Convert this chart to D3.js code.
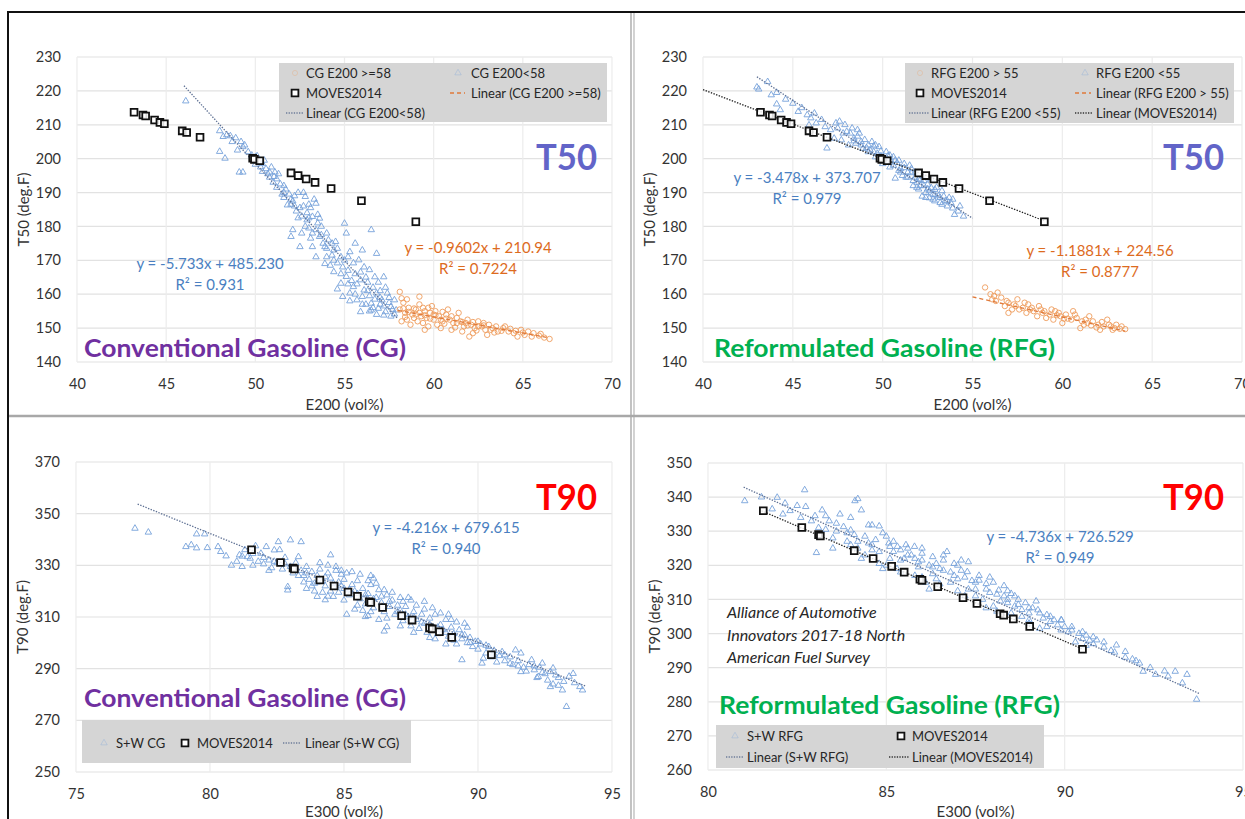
<!DOCTYPE html>
<html><head><meta charset="utf-8">
<script src="https://cdn.jsdelivr.net/npm/d3@7"></script>
<style>body{margin:0;background:#fff}svg{display:block;font-family:Lato,"Open Sans",sans-serif}</style>
</head><body><svg id="c" width="1245" height="819"></svg>
<script>
// ---------------- tick labels ----------------
const e200Ticks = [40,45,50,55,60,65,70];
const t50Ticks = [140,150,160,170,180,190,200,210,220,230];
const e300TicksCG = [75,80,85,90,95];
const t90TicksCG = [250,270,290,310,330,350,370];
const e300TicksRFG = [80,85,90,95];
const t90TicksRFG = [260,270,280,290,300,310,320,330,340,350];

// ---------------- MOVES2014 ----------------
const movesE200 = [43.2,43.7,43.85,44.35,44.65,44.9,45.9,46.15,46.9,49.85,49.95,50.25,52.0,52.4,52.85,53.35,54.25,55.95,59.0];
const movesT50  = [213.7,212.9,212.6,211.4,210.7,210.3,208.2,207.7,206.3,200.1,199.8,199.4,195.8,195.0,194.0,193.0,191.2,187.6,181.4];
const movesE300 = [81.55,82.63,83.1,83.15,84.1,84.63,85.15,85.5,85.94,86.0,86.44,87.15,87.54,88.19,88.29,88.56,89.02,90.5];
const movesT90  = [336.0,331.1,329.0,328.6,324.3,322.0,319.7,318.0,315.9,315.6,313.7,310.5,308.8,305.8,305.4,304.3,302.1,295.4];

// ---------------- Survey data (x, y) ----------------
const cgLow = [[46.1,217],[48.0,208.2],[48.4,207],[48.6,206.7],[48.9,206.1],[49.2,205],[48.0,202.1],[48.3,200.1],[49.1,196],[49.3,196],[49.3,203.5],[49.6,202],[49.8,201],[50.0,200.5],[50.2,199],[50.4,198.5],[50.6,197],[50.5,199.5],[50.8,196],[50.9,197.5],[51.05,194.7],[51.2,194],[51.3,195.5],[51.4,192.5],[51.6,192],[51.5,189.5],[51.7,191],[51.8,186.3],[51.9,189.5],[52.0,188],[52.1,187.5],[52.2,186],[52.4,190],[52.3,184.5],[52.5,185.5],[52.6,183],[52.8,188.8],[52.7,186],[52.9,184],[53.0,182.5],[53.1,185.5],[53.3,188],[53.4,186.8],[53.2,182.9],[53.5,183.5],[53.6,182.4],[52.9,181.9],[52.1,179],[52.0,177],[52.5,174],[53.4,179],[53.7,177.5],[54.0,178],[54.1,176],[53.4,171],[53.9,169],[54.0,171],[53.9,174],[54.4,173],[54.6,173.5],[55.0,180.9],[55.1,178],[55.6,175],[56.0,173],[56.5,179],[56.8,172],[54.6,169.2],[54.9,168],[55.2,171],[55.5,169.2],[55.8,170.1],[56.1,168],[56.4,167.2],[56.7,165.1],[57.2,165.1],[54.4,166.6],[54.8,163.2],[55.1,165.2],[55.5,162.2],[55.9,164.2],[56.1,161.2],[54.9,159.3],[55.3,160.3],[55.7,158.3],[56.0,159.3],[56.5,157.3],[56.8,160.3],[57.1,158.3],[57.4,160.3],[57.8,158.3],[55.9,154.8],[56.5,155.3],[56.9,155.8],[57.3,154.8],[57.6,156.3],[57.9,155.3],[57.8,154.1],[56.2,157],[56.6,162],[57.0,161],[57.5,157.5],[56.3,163.5],[55.6,166],[55.2,167],[54.2,168.5],[53.8,175],[54.3,171.5],[54.8,171],[55.3,172.5],[55.9,166.5],[56.2,165],[57.0,157],[57.7,155.5],[56.4,159.5],[56.9,163.5],[57.3,162],[54.5,175.5],[53.1,176.5],[52.6,178],[53.7,180],[53.0,179.5],[50.3,197.5],[50.7,195.5],[51.0,193],[51.1,196],[51.6,188.5],[52.2,189],[52.7,190],[53.0,186.5],[49.9,199.8],[50.1,200.8],[49.4,204],[48.7,205],[49.0,202.5],[48.2,206.5],[53.2,174],[55.4,164],[56.6,156],[57.2,156.5],[50.0,198.3],[50.4,196.2],[50.8,194.5],[51.2,191.5],[51.6,190],[52.0,186.5],[52.4,182.5],[52.8,180],[53.2,178],[53.6,177],[54.0,173.5],[54.4,170],[54.8,166],[55.2,163],[55.6,160],[56.0,157],[56.4,155],[56.8,154],[57.2,153.8],[57.6,153.5],[53.5,181],[54.3,175],[55.0,170],[55.7,163],[56.3,161],[57.0,159],[57.5,159],[55.3,158],[56.7,158.5],[54.6,161.5]];
const cgHigh = [[58.1,160.7],[58.2,158.8],[58.3,157.5],[58.1,155.5],[58.4,154.5],[58.6,156],[58.8,154],[58.5,152.5],[58.2,152],[59.0,155.5],[59.2,157],[59.3,153.5],[59.5,155],[59.2,159.3],[59.6,153],[59.8,154.5],[60.0,152.5],[60.1,155],[60.3,153.5],[60.5,152],[60.2,151],[60.7,154],[60.9,152.5],[61.1,151.5],[61.3,153],[61.5,152],[61.7,150.5],[61.9,152.5],[62.1,151],[62.3,150],[62.5,152],[62.2,148.5],[62.7,150.5],[62.9,149.5],[63.1,151],[63.3,150],[63.6,149],[63.9,150],[64.2,149],[64.5,148.5],[64.9,149.5],[65.1,148],[65.5,147.5],[65.9,147.8],[66.2,147.2],[66.5,146.8],[58.9,153],[59.1,152],[59.4,151.5],[59.7,150.5],[60.4,150],[61.0,149.5],[61.6,149],[62.0,147.5],[63.0,148],[60.8,155.5],[61.4,154.5],[59.9,156.5],[58.7,151],[59.5,149.5],[64.0,150.5],[62.8,151.5],[61.2,150.2],[58.4,153.3],[59.0,154],[60.6,151.3],[61.8,151.5],[62.4,149.3],[63.4,148.7],[64.7,147.5],[65.3,149],[60.0,154],[59.4,156],[58.3,155.8],[58.6,154.8],[58.9,155.8],[59.2,154.5],[59.5,153.8],[59.8,152.8],[60.1,153.8],[60.4,152.5],[60.7,152.8],[61.0,153.5],[61.3,151.5],[61.6,151.8],[61.9,150.8],[62.2,151.8],[62.5,150.5],[62.8,150.8],[63.2,149.5],[63.5,150.5],[63.8,149.2],[64.3,149.8],[64.6,149.2],[65.0,148.7],[65.6,148.5],[66.0,148.3],[60.5,154.8],[59.7,156],[58.5,158.5]];
const rfgLow = [[43.0,221.1],[43.1,220.5],[43.6,222.7],[43.8,218.8],[44.1,219.5],[44.1,216.1],[44.3,214.4],[45.0,216.3],[45.3,213.9],[45.8,212.9],[46.2,213.4],[45.9,209.9],[46.8,209.4],[47.1,208.5],[46.9,203.1],[47.5,209],[47.8,207.5],[48.0,208],[48.2,207.5],[48.4,206],[48.6,206.6],[48.8,205],[49.0,205.6],[49.2,204],[49.5,203.7],[49.3,202.5],[49.7,201.5],[49.9,202.2],[50.1,200],[50.3,200.8],[50.5,199],[50.7,199.5],[50.8,198.8],[51.0,197],[50.7,194.2],[51.2,197.3],[51.4,196],[51.6,195.8],[51.8,194.5],[51.9,193],[52.1,193.8],[52.2,188.9],[52.3,192],[52.5,192.4],[52.6,188.4],[52.7,191.4],[52.9,190.9],[52.9,189.4],[53.1,189],[53.4,188.9],[53.5,187.5],[53.8,186.9],[53.9,185.4],[54.2,184.5],[47.3,206],[47.7,205.5],[48.1,204],[48.5,204.5],[48.9,203],[49.2,202],[49.6,200.5],[50.0,198.5],[50.4,197.5],[50.9,196.5],[51.3,194.5],[51.7,192],[52.0,191],[52.4,190],[52.8,188],[53.2,187],[53.0,191.5],[52.2,195],[51.5,198],[50.9,199.5],[50.2,202],[49.4,205],[48.7,207.5],[48.3,209],[47.9,210],[51.1,195],[51.9,191.5],[52.6,190.5],[53.3,190.5],[53.6,186],[54.0,183.5],[54.5,183],[50.6,200.5],[49.8,203.5],[47.6,211],[46.6,211.5],[46.3,210.5],[45.5,215],[44.6,217.5],[53.7,188.5],[52.3,193.5],[52.0,194],[51.8,196],[48.4,205.2],[48.8,204],[49.1,203.2],[49.5,202],[49.9,200.7],[50.3,199.5],[50.6,198],[51.0,196],[51.4,194.5],[51.7,193.5],[52.1,192],[52.5,191],[52.8,189.5],[53.2,188.5],[53.6,187.5],[52.4,188.5],[52.9,187.5],[53.3,186.5],[51.2,198.5],[50.4,201],[49.6,204],[48.6,208.5],[47.4,210.5],[46.0,212],[53.9,188],[54.3,186],[52.7,194],[51.6,197]];
const rfgHigh = [[55.7,162],[56.0,160],[56.3,158],[56.6,159],[56.4,160.5],[57.0,157.5],[57.5,158.5],[57.2,155.5],[57.8,156],[58.1,157],[58.4,155],[58.7,156.5],[59.0,155],[59.3,154],[59.6,155],[59.9,153.5],[60.2,154],[60.5,152.5],[60.8,153],[61.1,152],[61.4,151.5],[61.7,152],[62.0,151],[62.3,150.5],[62.6,151],[62.9,150],[63.2,149.8],[63.5,149.7],[60.6,155],[59.1,153],[58.0,154.5],[57.0,154.5],[56.8,156.5],[61.0,150],[62.1,149.5],[60.0,151.5],[59.5,152.5],[58.6,153.5],[61.5,153.5],[62.5,152.5],[57.3,157],[58.3,156],[59.8,154.5],[60.3,152.8],[61.2,151],[61.9,150.2],[62.8,149.5],[56.1,158.5],[57.6,155.5],[58.9,154.5],[56.2,159.5],[56.9,158],[57.4,156.5],[57.9,157.5],[58.2,155.5],[58.8,155.5],[59.4,155.5],[59.7,153.8],[60.1,152.8],[60.7,154],[61.3,152.5],[61.6,150.8],[62.2,151.8],[62.7,150.5],[63.0,151],[63.3,150.5]];
const swCG = [[77.2,344.3],[77.7,342.8],[79.1,337.2],[79.3,337.9],[79.5,336.7],[79.9,336.8],[79.5,342.1],[79.8,342.1],[80.3,337.2],[80.4,335.3],[80.6,333.6],[81.4,333.3],[81.5,332.7],[81.9,334.6],[82.1,337.2],[82.4,335.9],[82.55,339.1],[83.0,339.8],[83.3,333.3],[83.4,339.1],[82.9,321.7],[82.9,320.4],[84.5,334],[84.0,317.9],[84.3,316.6],[84.6,317.9],[85.8,310.1],[86.6,306.2],[89.4,293.4],[90.15,292.1],[91.6,288.8],[92.25,286.9],[92.7,283],[93.15,281.7],[93.3,275.3],[93.55,288.1],[93.9,281.7],[92.0,293.4],[92.4,292.1],[92.8,290.2],[91.0,295.3],[91.4,297.2],[91.6,296],[80.8,330],[81.0,331.5],[81.2,329.5],[81.3,336],[81.6,330],[81.8,331.5],[82.0,330.5],[82.2,332],[82.3,329],[82.5,331],[82.7,328.5],[82.8,333],[83.0,329.5],[83.1,327],[83.2,331],[82.6,336],[82.2,328],[81.7,337.5],[81.1,334],[83.4,328],[83.5,326],[83.6,329.5],[83.7,324.5],[83.8,327.5],[83.9,323],[84.0,326],[84.1,328.5],[84.2,324],[84.3,322],[84.4,327],[84.5,325],[84.6,321.5],[84.7,328],[84.8,323.5],[84.9,326.5],[85.0,321],[85.0,324.5],[84.8,319.5],[84.5,320],[84.2,319.5],[83.8,322],[83.5,323.5],[83.6,321],[85.1,327],[84.9,328],[85.2,318.5],[85.3,322.5],[85.4,320],[85.5,324],[85.6,317],[85.7,321],[85.8,315],[85.9,319],[86.0,322.5],[86.1,313.5],[86.2,317.5],[86.3,320.5],[86.4,315.5],[86.5,312],[86.6,318.5],[86.7,314],[86.8,316.5],[86.9,311],[87.0,314.5],[85.4,313],[85.7,312.5],[86.0,326],[86.1,325],[86.3,309],[86.5,304.5],[85.9,310.5],[85.1,311],[87.1,312.5],[87.2,308.5],[87.3,314],[87.4,310],[87.5,306.5],[87.6,312],[87.7,309],[87.8,305.5],[87.9,311],[88.0,307.5],[88.1,304],[88.2,309.5],[88.3,306],[88.4,311],[88.5,303.5],[88.6,307],[88.7,305],[88.8,309],[88.9,302.5],[89.0,306],[87.2,316],[87.5,316.5],[88.0,313],[88.4,301.5],[89.1,303.5],[89.2,299.5],[89.3,305],[89.4,301.5],[89.5,303],[89.6,300],[89.7,302],[89.8,298.5],[89.9,300.5],[90.0,297.5],[90.1,299.5],[90.3,296],[90.4,298.5],[90.5,294.5],[90.6,297],[90.8,295],[91.0,293],[91.2,294.5],[90.7,292.5],[89.6,306],[89.0,309],[91.3,291.5],[91.5,293],[91.7,290.5],[91.9,291.5],[92.1,289.5],[92.3,290.5],[92.5,288],[92.6,285.5],[92.9,287.5],[93.0,283.5],[93.2,285],[93.4,287],[93.6,284.5],[93.8,283],[92.2,286.5],[92.8,284],[81.2,333.5],[81.6,334.5],[82.0,333],[82.4,331.5],[82.8,330.5],[83.2,329],[83.6,327],[84.0,323.5],[84.3,325.5],[84.6,323],[84.9,322],[85.2,320.5],[85.5,319],[85.8,318.5],[86.1,317],[86.4,318],[86.7,316],[87.0,312],[87.3,311],[87.6,310],[87.9,308],[88.2,307],[88.5,306],[88.8,304],[89.1,301],[89.4,303],[89.7,300],[90.0,300.5],[90.3,299],[90.6,295.5],[90.9,296.5],[91.2,292],[91.5,291],[91.8,289],[92.1,291],[92.4,288.5],[92.7,288.8],[93.0,286.5],[84.1,331],[84.4,330],[84.7,329.5],[85.3,327.5],[85.6,326.5],[85.9,324],[86.2,323],[86.5,320.5],[86.8,319.5],[87.1,317.5],[87.4,317.5],[87.7,314.5],[88.0,316],[88.3,313.5],[88.6,311.5],[88.9,311],[89.2,308],[89.5,307.5],[83.3,326],[83.9,320],[84.4,318],[85.0,316.5],[85.5,314.5],[86.0,312],[86.6,309.5],[87.1,306.5],[87.6,304],[88.2,302],[88.8,299.5],[90.2,294]];
const swRFG = [[81.03,338.9],[81.5,340],[81.94,339.9],[82.16,338.2],[82.3,336],[82.5,337.5],[82.71,342.1],[82.74,337.2],[83.04,323.7],[83.2,336.2],[83.3,334.5],[84.12,338.9],[84.3,336.2],[84.5,331.8],[84.6,331.8],[84.8,331.5],[83.6,332.3],[83.8,331.3],[84.0,330.3],[82.9,333],[83.1,331],[83.5,328],[83.9,327],[84.2,325],[84.4,323],[84.1,329],[84.7,327.5],[84.9,329.5],[85.07,326.5],[85.31,325.5],[85.55,326],[85.79,325.5],[85.1,322],[85.2,324],[85.4,321.5],[85.6,323],[85.9,321],[86.0,323.5],[86.2,320],[86.3,322.5],[86.5,319],[86.6,321.5],[86.7,324],[86.8,318],[86.9,320.5],[87.0,316],[87.1,318.5],[87.27,318.1],[87.4,315.5],[87.5,313],[87.6,315.6],[87.8,314.6],[87.9,312],[88.0,315],[88.15,312.7],[88.3,311],[88.4,309],[88.5,311.7],[88.6,308],[88.7,310],[88.8,307],[88.9,309],[89.0,306],[89.1,307.5],[89.25,306.9],[89.4,304.5],[89.5,305.5],[89.6,303.5],[89.7,304],[89.91,303.9],[90.0,302],[90.1,300.5],[90.2,302],[90.4,300],[90.5,298.5],[90.6,299.5],[90.8,297],[90.9,298.1],[91.1,296],[91.3,295],[91.45,296.6],[91.7,294.7],[91.9,292.5],[92.1,291.3],[92.2,288.9],[92.55,288],[92.8,289],[93.1,288.9],[93.43,288],[93.7,280.7],[86.1,315],[85.8,317],[85.3,319],[87.2,311],[88.1,306.5],[86.4,316],[84.8,320.5],[84.3,322],[87.7,310],[89.3,301.5],[90.3,297.5],[83.4,333],[83.7,335],[84.0,334],[84.4,328.5],[84.6,326],[85.0,328.5],[85.5,322],[85.9,319.5],[86.3,317.5],[86.8,315],[87.3,313],[87.6,317],[88.2,309.5],[88.6,311],[89.0,304],[89.8,302.5],[85.2,327],[85.6,325],[86.0,325],[86.6,323],[87.0,320],[87.3,321],[88.4,312.5],[88.8,305],[89.9,301],[90.7,298],[84.2,339.5],[81.8,336.5],[82.1,335],[82.6,334],[83.0,334.5],[83.3,330.5],[83.6,330],[83.9,329.5],[84.2,327],[84.5,326.5],[84.8,324],[85.1,325.5],[85.4,324.5],[85.7,323],[86.0,321.5],[86.3,319.5],[86.6,318.5],[86.9,317],[87.2,316.5],[87.5,315],[87.8,313],[88.1,311.5],[88.4,310],[88.7,308.5],[89.0,307.5],[89.3,306],[89.6,305],[89.9,304],[90.2,301],[90.5,300.5],[90.8,299],[91.1,297.5],[91.4,294.5],[91.7,293],[92.0,292],[92.4,290],[92.9,287.5],[93.3,285.5],[85.0,320],[85.4,318],[86.0,316.5],[86.5,314.5],[87.0,312.5],[87.5,311],[88.0,308],[88.5,306],[89.0,303],[84.0,326],[84.6,324.5],[85.8,322],[86.4,320.5],[87.1,321.5],[87.9,316.5],[88.3,314],[89.2,309.5],[83.5,325],[84.9,319],[86.2,313],[87.8,307.5],[89.5,302],[90.6,296.5]];

// ---------------- Linear fits: [slope, intercept], x range ----------------
const fitCGLow = [-5.733, 485.230];   const fitCGLowRange = [46, 58];
const fitCGHigh = [-0.9602, 210.94];  const fitCGHighRange = [58, 66.5];
const fitRFGLow = [-3.478, 373.707];  const fitRFGLowRange = [43, 55];
const fitRFGHigh = [-1.1881, 224.56]; const fitRFGHighRange = [55, 63.5];
const fitMovesT50 = [-2.04, 302.0];   const fitMovesT50Range = [40, 59];
const fitSWCG = [-4.216, 679.615];    const fitSWCGRange = [77.3, 94];
const fitSWRFG = [-4.736, 726.529];   const fitSWRFGRange = [81, 93.8];
const fitMovesT90 = [-4.5, 702.75];   const fitMovesT90Range = [81.5, 90.5];

// ---------------- styles ----------------
const BLUE_PT = "#76a2da", ORANGE_PT = "#ee9c5c", BLUE_TXT = "#4a7fc1", ORANGE_TXT = "#dd6b1e";
const FONT = 'Lato,"Open Sans",sans-serif';
const svg = d3.select("#c");
svg.append("rect").attr("width",1245).attr("height",819).attr("fill","#fff");

const tri = d3.symbol().type(d3.symbolTriangle).size(18)();
const sq = d3.symbol().type(d3.symbolSquare).size(46)();

function drawMarker(g, type, cx, cy, faint) {
  if (type === "tri") g.append("path").attr("d", tri).attr("transform",`translate(${cx},${cy})`).attr("fill","none").attr("stroke",BLUE_PT).attr("stroke-width",0.9).attr("opacity",faint?0.35:1);
  if (type === "circ") g.append("circle").attr("cx",cx).attr("cy",cy).attr("r",2.6).attr("fill","none").attr("stroke",ORANGE_PT).attr("stroke-width",0.9).attr("opacity",faint?0.3:1);
  if (type === "sq") g.append("path").attr("d", sq).attr("transform",`translate(${cx},${cy})`).attr("fill","#fff").attr("stroke","#111").attr("stroke-width",1.8);
  if (type === "dot") g.append("line").attr("x1",cx[0]).attr("x2",cx[1]).attr("y1",cy).attr("y2",cy).attr("stroke","#6d7c99").attr("stroke-width",1.3).attr("stroke-dasharray","1.3,1.3");
  if (type === "dotk") g.append("line").attr("x1",cx[0]).attr("x2",cx[1]).attr("y1",cy).attr("y2",cy).attr("stroke","#333").attr("stroke-width",1.3).attr("stroke-dasharray","1.3,1.3");
  if (type === "dash") g.append("line").attr("x1",cx[0]).attr("x2",cx[1]).attr("y1",cy).attr("y2",cy).attr("stroke","#e07a3a").attr("stroke-width",1.3).attr("stroke-dasharray","4,3");
}

function panel(cfg) {
  const x = d3.scaleLinear().domain(cfg.xDomain).range([cfg.left, cfg.right]);
  const y = d3.scaleLinear().domain(cfg.yDomain).range([cfg.bottom, cfg.top]);
  const g = svg.append("g");
  // grid
  g.selectAll(null).data(cfg.yTicks).join("line")
    .attr("x1",cfg.left).attr("x2",cfg.right).attr("y1",d=>y(d)).attr("y2",d=>y(d))
    .attr("stroke","#e2e2e2").attr("stroke-width",1.2);
  g.selectAll(null).data(cfg.xTicks).join("line")
    .attr("y1",cfg.top).attr("y2",cfg.bottom).attr("x1",d=>x(d)).attr("x2",d=>x(d))
    .attr("stroke","#ececec").attr("stroke-width",1.2);
  // axes
  const ya = g.append("g").attr("transform",`translate(${cfg.left},0)`)
    .call(d3.axisLeft(y).tickValues(cfg.yTicks).tickSize(0).tickPadding(16));
  ya.select(".domain").remove();
  ya.selectAll("text").attr("font-family",FONT).attr("font-size",14.5).attr("fill","#333");
  const xa = g.append("g").attr("transform",`translate(0,${cfg.bottom})`)
    .call(d3.axisBottom(x).tickValues(cfg.xTicks).tickSize(0).tickPadding(17));
  xa.select(".domain").remove();
  xa.selectAll("text").attr("font-family",FONT).attr("font-size",14.5).attr("fill","#333");
  // titles
  g.append("text").attr("x",(cfg.left+cfg.right)/2).attr("y",cfg.bottom+cfg.xTitleDy)
    .attr("text-anchor","middle").attr("font-size",15).attr("fill","#333").text(cfg.xTitle);
  g.append("text").attr("transform",`translate(${cfg.left-48},${(cfg.top+cfg.bottom)/2}) rotate(-90)`)
    .attr("text-anchor","middle").attr("font-size",15).attr("fill","#333").text(cfg.yTitle);

  // scatter series
  cfg.series.forEach(s => {
    const sg = g.append("g");
    if (s.type === "tri") {
      sg.selectAll("path").data(s.data).join("path").attr("d",tri)
        .attr("transform",d=>`translate(${x(d[0])},${y(d[1])})`)
        .attr("fill","none").attr("stroke",BLUE_PT).attr("stroke-width",0.9);
    } else if (s.type === "circ") {
      sg.selectAll("circle").data(s.data).join("circle").attr("cx",d=>x(d[0])).attr("cy",d=>y(d[1])).attr("r",2.7)
        .attr("fill","none").attr("stroke",ORANGE_PT).attr("stroke-width",0.9);
    }
  });
  // fits
  const line = d3.line().x(d=>x(d[0])).y(d=>y(d[1]));
  cfg.fits.forEach(f => {
    const pts = f.range.map(v => [v, f.coef[0]*v + f.coef[1]]);
    const st = {dot:["#5f7194","1.4,1.4"], dotk:["#222","1.4,1.4"], dash:["#e07a3a","4,3"]}[f.style];
    g.append("path").attr("d",line(pts)).attr("fill","none").attr("stroke",st[0]).attr("stroke-width",1.3).attr("stroke-dasharray",st[1]);
  });
  // MOVES squares
  g.selectAll(null).data(d3.zip(cfg.moves[0], cfg.moves[1])).join("path").attr("d",sq)
    .attr("transform",d=>`translate(${x(d[0])},${y(d[1])})`)
    .attr("fill","#fff").attr("fill-opacity",0.85).attr("stroke","#111").attr("stroke-width",1.8);

  // legend
  const L = cfg.legend;
  const lg = g.append("g");
  lg.append("rect").attr("x",L.box[0]).attr("y",L.box[1]).attr("width",L.box[2]).attr("height",L.box[3]).attr("fill","#d5d5d5");
  L.items.forEach(it => {
    drawMarker(lg, it.m, it.mx, it.y, true);
    lg.append("text").attr("x",it.tx).attr("y",it.y+4.5).attr("font-size",13).attr("fill","#262626").text(it.label);
  });

  // equations
  cfg.eqs.forEach(e => {
    g.append("text").attr("x",e.x).attr("y",e.y).attr("text-anchor","middle").attr("font-size",15).attr("fill",e.c).text(e.t1);
    g.append("text").attr("x",e.x).attr("y",e.y+21).attr("text-anchor","middle").attr("font-size",15).attr("fill",e.c).text(e.t2);
  });
  // big labels
  g.append("text").attr("x",cfg.big.x).attr("y",cfg.big.y).attr("font-size",37).attr("font-weight",700)
    .attr("fill",cfg.big.c).attr("textLength",61).attr("lengthAdjust","spacingAndGlyphs").text(cfg.big.t);
  g.append("text").attr("x",cfg.name.x).attr("y",cfg.name.y).attr("font-size",24).attr("font-weight",700)
    .attr("fill",cfg.name.c).attr("textLength",cfg.name.w).attr("lengthAdjust","spacingAndGlyphs").text(cfg.name.t);
  return g;
}

svg.attr("font-family",FONT);

// Panel 1: CG T50
panel({
  xDomain:[40,70], yDomain:[140,230], left:77, right:612, top:57, bottom:362,
  xTicks:e200Ticks, yTicks:t50Ticks, xTitle:"E200 (vol%)", yTitle:"T50 (deg.F)", xTitleDy:48,
  series:[{type:"tri",data:cgLow},{type:"circ",data:cgHigh}],
  fits:[{coef:fitCGLow,range:fitCGLowRange,style:"dot"},{coef:fitCGHigh,range:fitCGHighRange,style:"dash"}],
  moves:[movesE200,movesT50],
  legend:{box:[279,63,328,59], items:[
    {m:"circ",mx:295,tx:306,y:73,label:"CG E200 >=58"},
    {m:"tri",mx:458,tx:471,y:73,label:"CG E200<58"},
    {m:"sq",mx:295,tx:306,y:93,label:"MOVES2014"},
    {m:"dash",mx:[450,465],tx:471,y:93,label:"Linear (CG E200 >=58)"},
    {m:"dot",mx:[286,303],tx:306,y:113,label:"Linear (CG E200<58)"}]},
  eqs:[{x:210,y:269,c:BLUE_TXT,t1:"y = -5.733x + 485.230",t2:"R² = 0.931"},
       {x:478,y:253,c:ORANGE_TXT,t1:"y = -0.9602x + 210.94",t2:"R² = 0.7224"}],
  big:{x:536,y:170,c:"#6264c8",t:"T50"},
  name:{x:84,y:357,c:"#7030a0",t:"Conventional Gasoline (CG)",w:322}
});

// Panel 2: RFG T50
panel({
  xDomain:[40,70], yDomain:[140,230], left:703, right:1242, top:57, bottom:362,
  xTicks:e200Ticks, yTicks:t50Ticks, xTitle:"E200 (vol%)", yTitle:"T50 (deg.F)", xTitleDy:48,
  series:[{type:"tri",data:rfgLow},{type:"circ",data:rfgHigh}],
  fits:[{coef:fitMovesT50,range:fitMovesT50Range,style:"dotk"},{coef:fitRFGLow,range:fitRFGLowRange,style:"dot"},{coef:fitRFGHigh,range:fitRFGHighRange,style:"dash"}],
  moves:[movesE200,movesT50],
  legend:{box:[905,63,329,60], items:[
    {m:"circ",mx:920,tx:931,y:73,label:"RFG E200 > 55"},
    {m:"tri",mx:1085,tx:1096,y:73,label:"RFG E200 <55"},
    {m:"sq",mx:920,tx:931,y:93,label:"MOVES2014"},
    {m:"dash",mx:[1075,1091],tx:1096,y:93,label:"Linear (RFG E200 > 55)"},
    {m:"dot",mx:[909,929],tx:931,y:113,label:"Linear (RFG E200 <55)"},
    {m:"dotk",mx:[1075,1093],tx:1096,y:113,label:"Linear (MOVES2014)"}]},
  eqs:[{x:807,y:183,c:BLUE_TXT,t1:"y = -3.478x + 373.707",t2:"R² = 0.979"},
       {x:1100,y:256,c:ORANGE_TXT,t1:"y = -1.1881x + 224.56",t2:"R² = 0.8777"}],
  big:{x:1163,y:170,c:"#6264c8",t:"T50"},
  name:{x:714,y:357,c:"#00b050",t:"Reformulated Gasoline (RFG)",w:341}
});

// Panel 3: CG T90
panel({
  xDomain:[75,95], yDomain:[250,370], left:76, right:612, top:462, bottom:772,
  xTicks:e300TicksCG, yTicks:t90TicksCG, xTitle:"E300 (vol%)", yTitle:"T90 (deg.F)", xTitleDy:45,
  series:[{type:"tri",data:swCG}],
  fits:[{coef:fitSWCG,range:fitSWCGRange,style:"dot"}],
  moves:[movesE300,movesT90],
  legend:{box:[82,720,329,43], items:[
    {m:"tri",mx:104,tx:116,y:743,label:"S+W CG"},
    {m:"sq",mx:185,tx:197,y:743,label:"MOVES2014"},
    {m:"dot",mx:[283,301],tx:305,y:743,label:"Linear (S+W CG)"}]},
  eqs:[{x:446,y:533,c:BLUE_TXT,t1:"y = -4.216x + 679.615",t2:"R² = 0.940"}],
  big:{x:536,y:510,c:"#ff0000",t:"T90"},
  name:{x:84,y:707,c:"#7030a0",t:"Conventional Gasoline (CG)",w:322}
});

// Panel 4: RFG T90
panel({
  xDomain:[80,95], yDomain:[260,350], left:708, right:1243, top:463, bottom:770,
  xTicks:e300TicksRFG, yTicks:t90TicksRFG, xTitle:"E300 (vol%)", yTitle:"T90 (deg.F)", xTitleDy:47,
  series:[{type:"tri",data:swRFG}],
  fits:[{coef:fitSWRFG,range:fitSWRFGRange,style:"dot"},{coef:fitMovesT90,range:fitMovesT90Range,style:"dotk"}],
  moves:[movesE300,movesT90],
  legend:{box:[716,725,328,43], items:[
    {m:"tri",mx:735,tx:747,y:736,label:"S+W RFG"},
    {m:"sq",mx:901,tx:912,y:736,label:"MOVES2014"},
    {m:"dot",mx:[726,744],tx:747,y:757,label:"Linear (S+W RFG)"},
    {m:"dotk",mx:[889,909],tx:912,y:757,label:"Linear (MOVES2014)"}]},
  eqs:[{x:1060,y:542,c:BLUE_TXT,t1:"y = -4.736x + 726.529",t2:"R² = 0.949"}],
  big:{x:1163,y:510,c:"#ff0000",t:"T90"},
  name:{x:719,y:714,c:"#00b050",t:"Reformulated Gasoline (RFG)",w:341}
});

// source note
const note = ["Alliance of Automotive","Innovators 2017-18 North","American Fuel Survey"];
svg.append("g").selectAll("text").data(note).join("text")
  .attr("x",727).attr("y",(d,i)=>618+i*22.5).attr("font-size",16).attr("font-style","italic").attr("fill","#262626").text(d=>d);

// frame and dividers
svg.append("line").attr("x1",7).attr("x2",1245).attr("y1",12).attr("y2",12).attr("stroke","#111").attr("stroke-width",2);
svg.append("line").attr("x1",8).attr("x2",8).attr("y1",12).attr("y2",819).attr("stroke","#111").attr("stroke-width",2);
svg.append("line").attr("x1",631).attr("x2",631).attr("y1",13).attr("y2",819).attr("stroke","#9a9a9a").attr("stroke-width",1.2);
svg.append("line").attr("x1",634).attr("x2",634).attr("y1",13).attr("y2",819).attr("stroke","#b5b5b5").attr("stroke-width",1.2);
svg.append("line").attr("x1",9).attr("x2",1245).attr("y1",416).attr("y2",416).attr("stroke","#a8a8a8").attr("stroke-width",2.5);
</script></body></html>
